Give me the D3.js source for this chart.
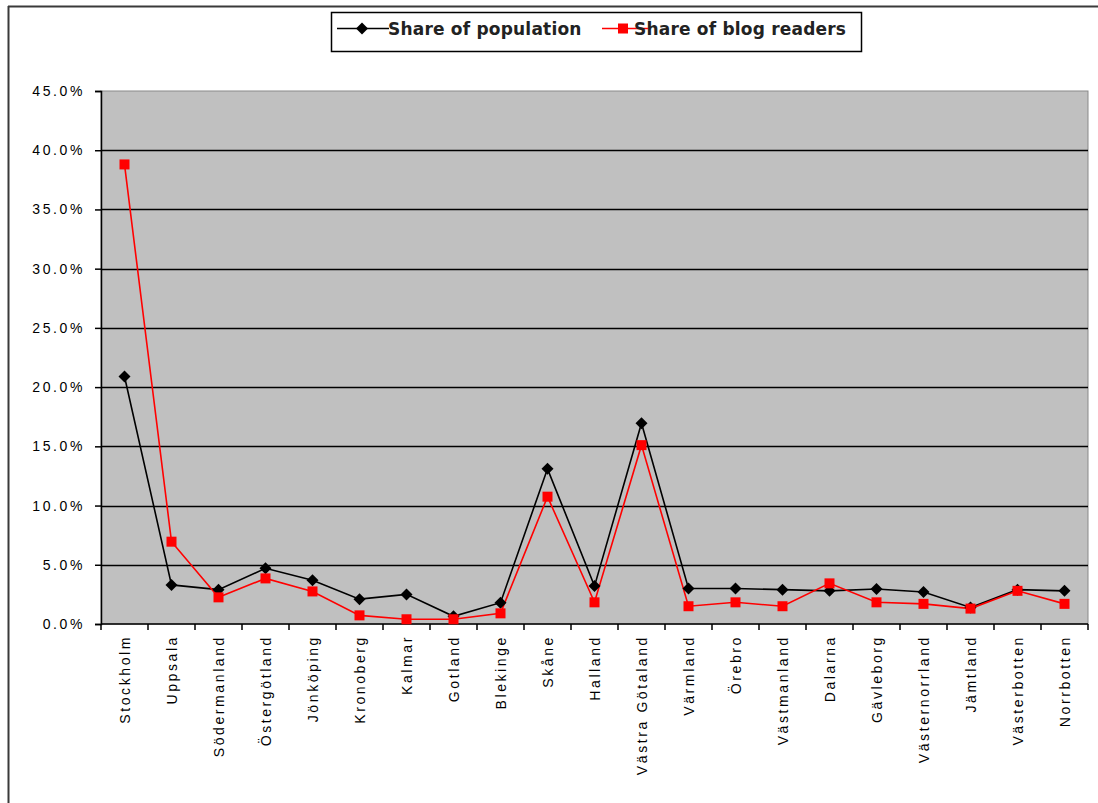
<!DOCTYPE html>
<html>
<head>
<meta charset="utf-8">
<script src="https://cdn.jsdelivr.net/npm/d3@7"></script>
<style>
  html, body { margin: 0; padding: 0; background: #fff; }
  svg { display: block; }
</style>
</head>
<body>
<svg id="chart" width="1098" height="803"></svg>
<script>
// Swedish counties (län)
const counties = [
  "Stockholm", "Uppsala", "Södermanland", "Östergötland", "Jönköping",
  "Kronoberg", "Kalmar", "Gotland", "Blekinge", "Skåne", "Halland",
  "Västra Götaland", "Värmland", "Örebro", "Västmanland", "Dalarna",
  "Gävleborg", "Västernorrland", "Jämtland", "Västerbotten", "Norrbotten"
];

// Share of population per county (%)
const populationShare = [
  20.9, 3.3, 2.9, 4.7, 3.7, 2.1, 2.5, 0.65, 1.8, 13.1, 3.2,
  16.95, 3.0, 3.0, 2.9, 2.8, 2.95, 2.7, 1.4, 2.9, 2.8
];

// Share of blog readers per county (%)
const readerShare = [
  38.8, 6.95, 2.25, 3.85, 2.75, 0.73, 0.4, 0.4, 0.9, 10.75, 1.83,
  15.1, 1.5, 1.83, 1.5, 3.43, 1.83, 1.7, 1.3, 2.8, 1.7
];

const yTicks = [0, 5, 10, 15, 20, 25, 30, 35, 40, 45];
const legendLabels = ["Share of population", "Share of blog readers"];

const svg = d3.select("#chart");
const plot = { left: 101, right: 1088, top: 91, bottom: 624 };

// Outer frame (top and left edges)
svg.append("line").attr("x1", 8).attr("x2", 1098).attr("y1", 6.5).attr("y2", 6.5)
  .attr("stroke", "#3a3a3a").attr("stroke-width", 2);
svg.append("line").attr("x1", 8.5).attr("x2", 8.5).attr("y1", 6).attr("y2", 803)
  .attr("stroke", "#3a3a3a").attr("stroke-width", 2);

const x = d3.scaleBand().domain(counties).range([plot.left, plot.right]).padding(0);
const y = d3.scaleLinear().domain([0, 45]).range([plot.bottom, plot.top]);
const cx = d => x(d) + x.bandwidth() / 2;

// Plot background
svg.append("rect")
  .attr("x", plot.left).attr("y", plot.top)
  .attr("width", plot.right - plot.left).attr("height", plot.bottom - plot.top)
  .attr("fill", "#c0c0c0").attr("stroke", "#8a8a8a").attr("stroke-width", 1);

// Horizontal gridlines
svg.append("g").selectAll("line").data(yTicks.filter(t => t > 0 && t < 45)).join("line")
  .attr("x1", plot.left).attr("x2", plot.right)
  .attr("y1", d => Math.round(y(d)) + 0.5).attr("y2", d => Math.round(y(d)) + 0.5)
  .attr("stroke", "#000").attr("stroke-width", 1.6);

// Y axis
const yAxis = svg.append("g").attr("transform", `translate(${plot.left},0)`)
  .call(d3.axisLeft(y).tickValues(yTicks).tickSize(6).tickFormat(d => d.toFixed(1) + "%"));
yAxis.select(".domain").attr("stroke", "#000").attr("stroke-width", 1.5);
yAxis.selectAll(".tick line").attr("stroke", "#000").attr("stroke-width", 1.5);
yAxis.selectAll(".tick text")
  .attr("x", -16)
  .attr("font-family", "Liberation Sans, Arial, sans-serif")
  .attr("font-size", 14)
  .attr("letter-spacing", "2.6px")
  .attr("fill", "#000");

// X axis with ticks between categories
const xAxisG = svg.append("g").attr("transform", `translate(0,${plot.bottom})`);
xAxisG.append("line").attr("x1", plot.left).attr("x2", plot.right).attr("y1", 0).attr("y2", 0)
  .attr("stroke", "#000").attr("stroke-width", 1.5);
const boundaries = counties.map(c => x(c)).concat([plot.right]);
xAxisG.selectAll("line.tk").data(boundaries).join("line").attr("class", "tk")
  .attr("x1", d => d).attr("x2", d => d).attr("y1", 0).attr("y2", 6)
  .attr("stroke", "#000").attr("stroke-width", 1.5);
xAxisG.selectAll("text").data(counties).join("text")
  .attr("transform", d => `translate(${cx(d) + 5},11) rotate(-90)`)
  .attr("text-anchor", "end")
  .attr("font-family", "Liberation Sans, Arial, sans-serif")
  .attr("font-size", 14)
  .attr("letter-spacing", "2.6px")
  .attr("fill", "#000")
  .text(d => d);

// Lines
const line = d3.line().x((d, i) => cx(counties[i])).y(d => y(d));
svg.append("path").datum(populationShare).attr("d", line)
  .attr("fill", "none").attr("stroke", "#000").attr("stroke-width", 1.6);
svg.append("path").datum(readerShare).attr("d", line)
  .attr("fill", "none").attr("stroke", "#ff0000").attr("stroke-width", 1.6);

// Markers: square diamond for population, filled square for readers
const diamondPath = "M0,-6L6,0L0,6L-6,0Z";
svg.append("g").selectAll("path").data(populationShare).join("path")
  .attr("transform", (d, i) => `translate(${cx(counties[i])},${y(d)})`)
  .attr("d", diamondPath).attr("fill", "#000");
svg.append("g").selectAll("rect").data(readerShare).join("rect")
  .attr("x", (d, i) => cx(counties[i]) - 5).attr("y", d => y(d) - 5)
  .attr("width", 10).attr("height", 10).attr("fill", "#ff0000");

// Legend
const lg = svg.append("g");
lg.append("rect").attr("x", 331.5).attr("y", 12.5).attr("width", 530).attr("height", 39)
  .attr("fill", "#fff").attr("stroke", "#000").attr("stroke-width", 1.5);
const legendItems = [
  { label: legendLabels[0], color: "#000", lx: 337, mx: 362, x2: 389, tx: 388, marker: "diamond" },
  { label: legendLabels[1], color: "#ff0000", lx: 602, mx: 623, x2: 648, tx: 634, marker: "square" }
];
legendItems.forEach(it => {
  lg.append("line").attr("x1", it.lx).attr("x2", it.x2).attr("y1", 28.5).attr("y2", 28.5)
    .attr("stroke", it.color).attr("stroke-width", 1.6);
  if (it.marker === "diamond") {
    lg.append("path").attr("transform", `translate(${it.mx},28.5)`).attr("d", diamondPath).attr("fill", it.color);
  } else {
    lg.append("rect").attr("x", it.mx - 5).attr("y", 23.5).attr("width", 10).attr("height", 10).attr("fill", it.color);
  }
  lg.append("text").attr("x", it.tx).attr("y", 34.5)
    .attr("font-family", "DejaVu Sans, Verdana, sans-serif")
    .attr("font-size", 17).attr("font-weight", "bold").attr("fill", "#222")
    .attr("letter-spacing", "0.2px")
    .text(it.label);
});
</script>
</body>
</html>
